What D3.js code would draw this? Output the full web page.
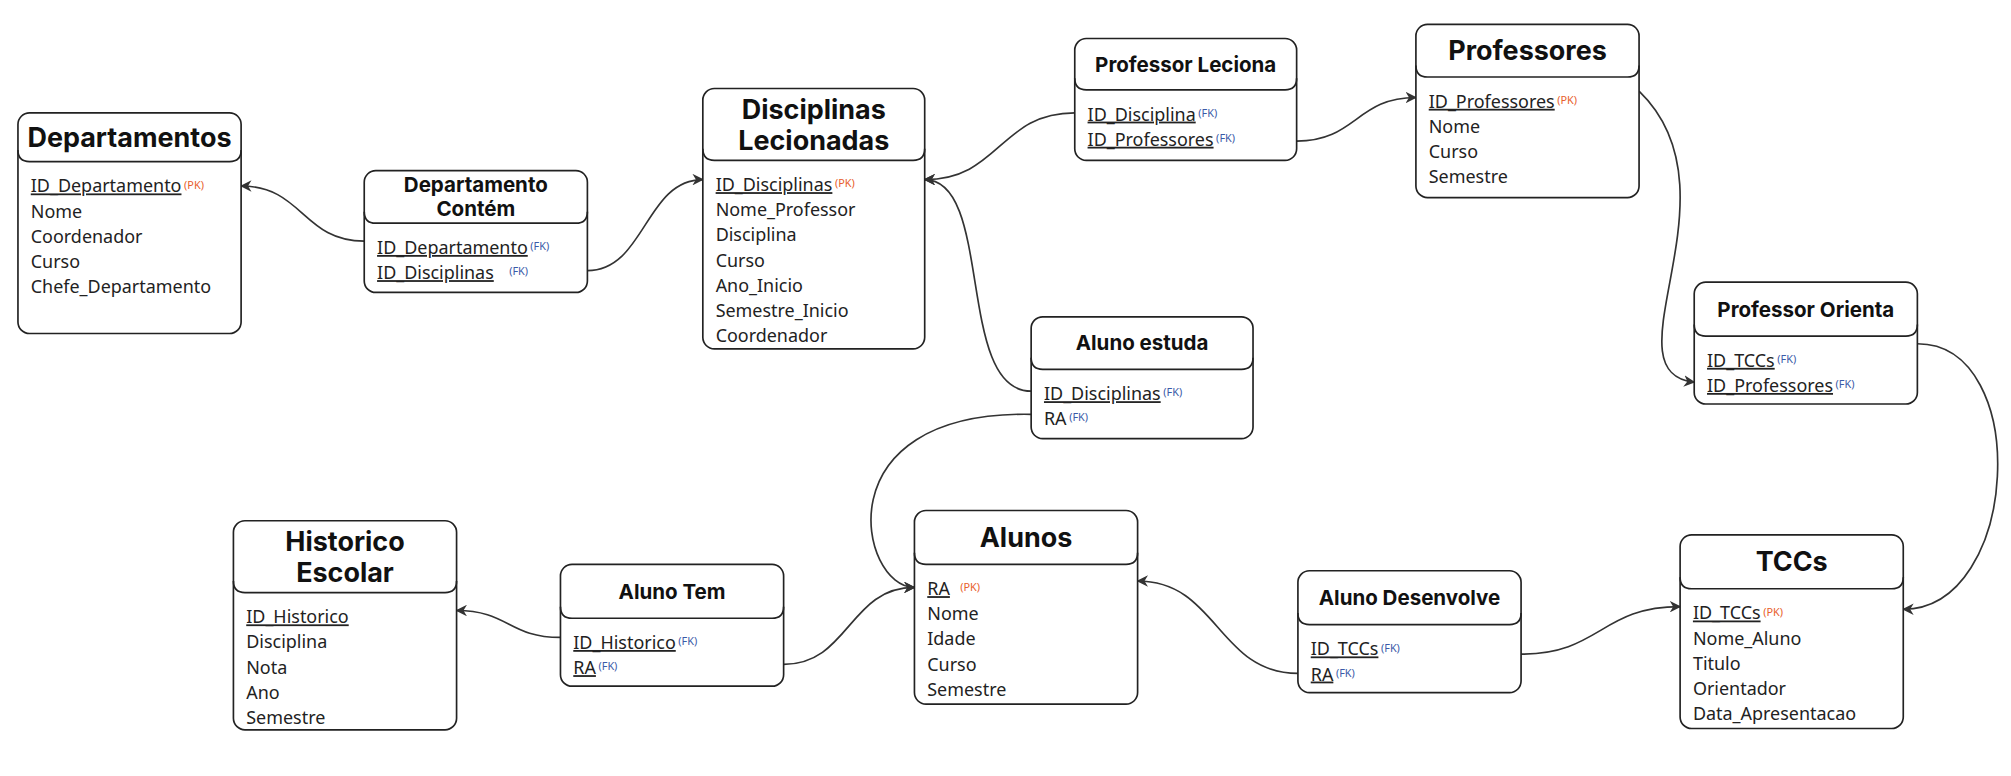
<!DOCTYPE html>
<html><head><meta charset="utf-8">
<script src="https://cdn.jsdelivr.net/npm/d3@7"></script>
<style>body{margin:0;background:#fff}</style></head>
<body><div id="chart"></div>
<script>
// tables: name, title lines, fields [label, key tag]
const tableNames = ["Departamentos","DepContem","Disciplinas","ProfLeciona","Professores","ProfOrienta","AlunoEstuda","Historico","AlunoTem","Alunos","AlunoDesenvolve","TCCs"];
const titles = {
  Departamentos:["Departamentos"], DepContem:["Departamento","Contém"], Disciplinas:["Disciplinas","Lecionadas"],
  ProfLeciona:["Professor Leciona"], Professores:["Professores"], ProfOrienta:["Professor Orienta"],
  AlunoEstuda:["Aluno estuda"], Historico:["Historico","Escolar"], AlunoTem:["Aluno Tem"], Alunos:["Alunos"],
  AlunoDesenvolve:["Aluno Desenvolve"], TCCs:["TCCs"]
};
const fields = {
  Departamentos:[["ID_Departamento","PK"],["Nome"],["Coordenador"],["Curso"],["Chefe_Departamento"]],
  DepContem:[["ID_Departamento","FK"],["ID_Disciplinas","FK",10]],
  Disciplinas:[["ID_Disciplinas","PK"],["Nome_Professor"],["Disciplina"],["Curso"],["Ano_Inicio"],["Semestre_Inicio"],["Coordenador"]],
  ProfLeciona:[["ID_Disciplina","FK"],["ID_Professores","FK"]],
  Professores:[["ID_Professores","PK"],["Nome"],["Curso"],["Semestre"]],
  ProfOrienta:[["ID_TCCs","FK"],["ID_Professores","FK"]],
  AlunoEstuda:[["ID_Disciplinas","FK"],["RA","FK",0,true]],
  Historico:[["ID_Historico","U"],["Disciplina"],["Nota"],["Ano"],["Semestre"]],
  AlunoTem:[["ID_Historico","FK"],["RA","FK"]],
  Alunos:[["RA","PK",6],["Nome"],["Idade"],["Curso"],["Semestre"]],
  AlunoDesenvolve:[["ID_TCCs","FK"],["RA","FK"]],
  TCCs:[["ID_TCCs","PK"],["Nome_Aluno"],["Titulo"],["Orientador"],["Data_Apresentacao"]]
};
// layout (reference coords 1568 x 605): x, y, w, h, header height
const layout = {
  Departamentos:[14,88,174,172,38], DepContem:[284,133,174,95,41], Disciplinas:[548,69,173,203,56],
  ProfLeciona:[838,30,173,95,40], Professores:[1104,19,174,135,41], ProfOrienta:[1321,220,174,95,42],
  AlunoEstuda:[804,247,173,95,41], Historico:[182,406,174,163,56], AlunoTem:[437,440,174,95,42],
  Alunos:[713,398,174,151,42], AlunoDesenvolve:[1012,445,174,95,42], TCCs:[1310,417,174,151,42]
};
// connectors: [x1,y1,x2,y2, optional control points]
const links = [
  [284,188,188,145], [458,211,548,140], [838,88,721,140], [1011,110,1104,76],
  [1278,71,1321,298,[1360,150],[1250,290]], [1495,268,1484,475,[1585,268],[1575,475]],
  [804,305,721,140,[745,305],[775,140]], [804,323,713,458,[640,320],[670,458]],
  [437,497,356,476], [611,518,713,458], [1012,525,887,453], [1186,510,1310,473]
];

const W = 1568, H = 605;
const svg = d3.select("#chart").append("svg")
  .attr("width", 2011).attr("height", 776).attr("viewBox", `0 0 ${W} ${H}`);

svg.append("defs").append("marker").attr("id","arr").attr("viewBox","0 0 10 10")
  .attr("refX",9).attr("refY",5).attr("markerWidth",9).attr("markerHeight",9)
  .attr("orient","auto-start-reverse").attr("markerUnits","userSpaceOnUse")
  .append("path").attr("d","M0,0 L10,5 L0,10 L3,5 z").attr("fill","#333");

svg.selectAll("path.link").data(links).enter().append("path")
  .attr("class","link")
  .attr("d", d => {
    const mx = (d[0]+d[2])/2;
    const c1 = d[4] || [mx,d[1]], c2 = d[5] || [mx,d[3]];
    const p = d3.path();
    p.moveTo(d[0],d[1]); p.bezierCurveTo(c1[0],c1[1],c2[0],c2[1],d[2],d[3]);
    return p.toString();
  })
  .attr("fill","none").attr("stroke","#333").attr("stroke-width",1.3)
  .attr("marker-end","url(#arr)");

tableNames.forEach(name => {
  const [x,y,w,h,hh] = layout[name];
  const g = svg.append("g").attr("transform",`translate(${x},${y})`);
  g.append("rect").attr("width",w).attr("height",h).attr("rx",9)
    .attr("fill","#fff").attr("stroke","#222").attr("stroke-width",1.3);
  g.append("path").attr("d",`M0,${hh-9} Q0,${hh} 9,${hh} L${w-9},${hh} Q${w},${hh} ${w},${hh-9}`)
    .attr("fill","none").attr("stroke","#222").attr("stroke-width",1.3);
  const tl = titles[name];
  const big = ["Departamentos","Disciplinas","Professores","Historico","Alunos","TCCs"].includes(name);
  const fs = big ? 21 : (tl.length > 1 ? 16 : 16);
  const lh = big ? 24 : 19;
  tl.forEach((t,i) => {
    g.append("text").attr("x",w/2).attr("y", hh/2 + (i-(tl.length-1)/2)*lh + fs*0.36)
      .attr("text-anchor","middle").attr("font-family","Inter, 'Noto Sans', sans-serif")
      .attr("font-weight",700).attr("font-size",fs).attr("fill","#111").text(t);
  });
  fields[name].forEach((f,i) => {
    const ty = hh + 24 + i*19.6;
    const t = g.append("text").attr("x",10).attr("y",ty)
      .attr("font-family","'Noto Sans', sans-serif").attr("font-size",14).attr("fill","#222")
      .attr("text-decoration", f[1] && !f[3] ? "underline" : null).text(f[0]);
    if (f[1] === "PK" || f[1] === "FK") {
      const tw = t.node().getComputedTextLength();
      g.append("text").attr("x", 10 + tw + 2 + (f[2]||0)).attr("y", ty - 3)
        .attr("font-family","'Noto Sans', sans-serif").attr("font-size",8.5)
        .attr("fill", f[1]==="PK" ? "#e8602c" : "#3a5aa8").text(`(${f[1]})`);
    }
  });
});
</script></body></html>
